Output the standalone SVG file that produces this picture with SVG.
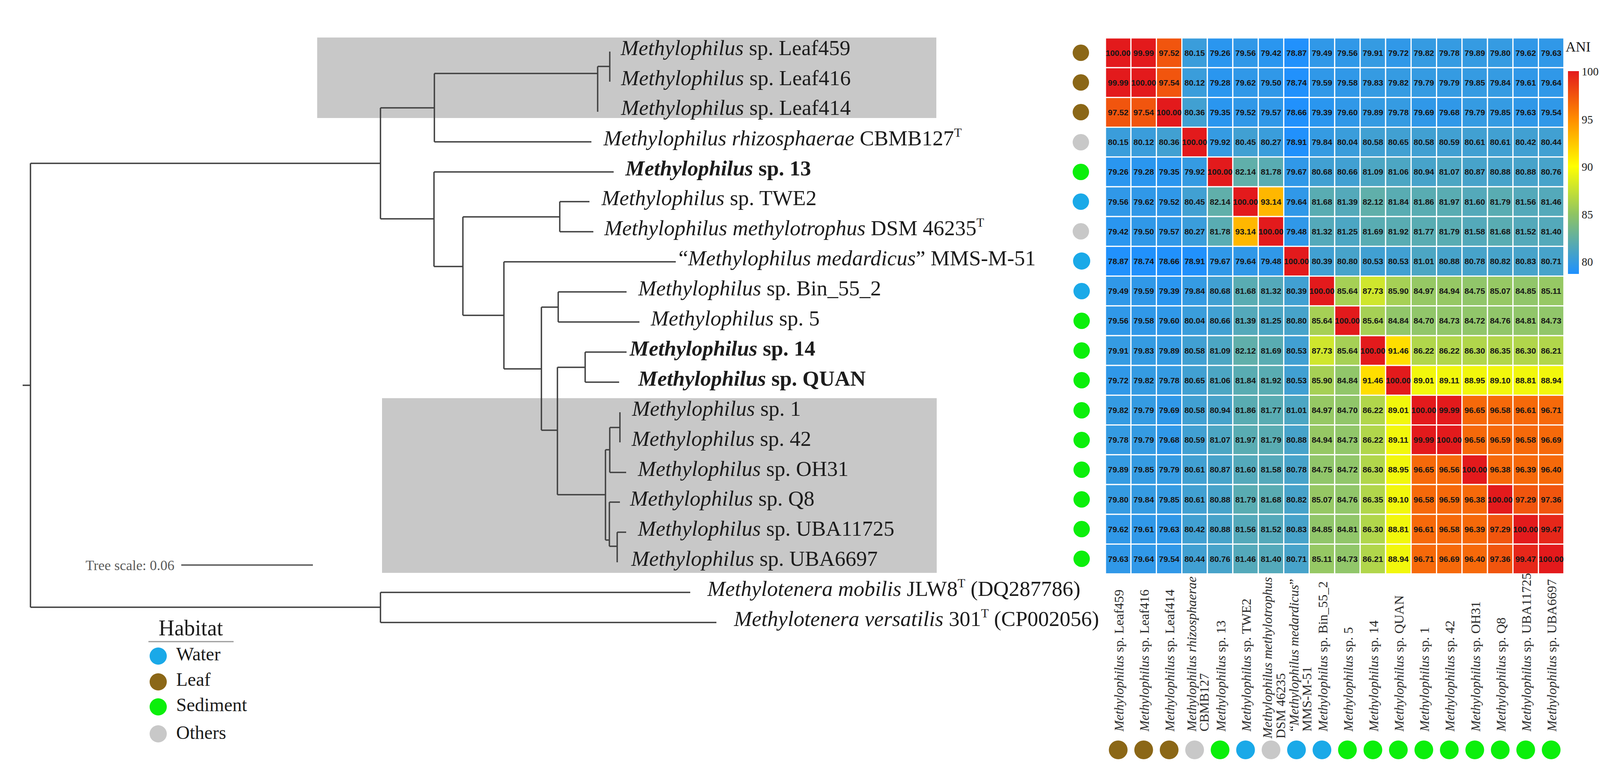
<svg xmlns="http://www.w3.org/2000/svg" width="4277" height="1991" viewBox="0 0 4277 1991">
<defs>
<linearGradient id="ani" x1="0" y1="0" x2="0" y2="1">
<stop offset="0" stop-color="#e31a1c"/>
<stop offset="0.235" stop-color="#ff8c00"/>
<stop offset="0.469" stop-color="#ffff00"/>
<stop offset="0.704" stop-color="#8fc462"/>
<stop offset="1" stop-color="#1e90ff"/>
</linearGradient>
</defs>
<style>
.tl{font-family:"Liberation Serif","Times New Roman",serif;font-size:55px;fill:#1c1c1c}
.b{font-weight:bold}
.i{font-style:italic}
.sup{font-size:32px}
.br{fill:none;stroke:#404040;stroke-width:3.5}
.hm rect{stroke:#fff;stroke-width:3}
.hm text{font-family:"Liberation Sans",Arial,sans-serif;font-weight:bold;font-size:21px;fill:#161616;text-anchor:middle}
.cl{font-family:"Liberation Serif","Times New Roman",serif;font-size:34px;fill:#2a2a2a}
.lg{font-family:"Liberation Serif","Times New Roman",serif;fill:#1c1c1c}
.leaf{fill:#8b6717}.water{fill:#1aa9e8}.sed{fill:#0bef0b}.oth{fill:#c8c8c8}
.k0{fill:#2191fc}.k1{fill:#2a96ef}.k2{fill:#3098e8}.k3{fill:#359be2}.k4{fill:#3a9ddb}.k5{fill:#41a0d2}.k6{fill:#47a3ca}.k7{fill:#4ca6c3}.k8{fill:#54a9ba}.k9{fill:#59acb2}.k10{fill:#60afaa}.k11{fill:#91c66a}.k12{fill:#96c864}.k13{fill:#a6d055}.k14{fill:#b1d64b}.k15{fill:#cfe62d}.k16{fill:#f2f70c}.k17{fill:#ffde00}.k18{fill:#ffb700}.k19{fill:#f6690a}.k20{fill:#f1550e}.k21{fill:#e6271a}.k22{fill:#e31a1c}
</style>
<rect width="4277" height="1991" fill="#fff"/>
<g id="clades">
<rect x="812" y="96" width="1585" height="206" fill="#c8c8c8"/>
<rect x="978" y="1019" width="1420" height="447" fill="#c8c8c8"/>
</g>
<g id="connectors" class="br">
<path d="M58,986H78M78,418V1554M78,418H974M974,276V560M974,276H1112M1112,188V363M1112,188H1530M1530,170V286M1530,170H1561M1561,132V209M1112,363H1514"/>
<path d="M974,560H1111M1111,440V682M1111,440H1571M1111,682H1185M1185,555V807M1185,555H1433M1433,516V593M1433,516H1509M1433,593H1519"/>
<path d="M1185,807H1290M1290,670V944M1290,670H1730M1290,944H1386M1386,786V1101M1386,786H1429M1429,747V824M1429,747H1604M1429,824H1637"/>
<path d="M1386,1101H1427M1427,940V1266M1427,940H1498M1498,901V978M1498,901H1604M1498,978H1585M1427,1266H1550M1550,1151V1382"/>
<path d="M1550,1151H1561M1561,1094V1209M1561,1209H1603M1561,1094H1587M1587,1055V1132M1550,1382H1560M1560,1285V1398M1560,1285H1587M1560,1398H1580M1580,1362V1439M1580,1362H1603"/>
<path d="M78,1554H974M974,1516V1593M974,1516H1767M974,1593H1834"/>
</g>
<g id="taxa">
<g id="t-leaf459"><text class="tl" x="1589" y="141"><tspan class="i">Methylophilus</tspan> sp. Leaf459</text></g>
<g id="t-leaf416"><text class="tl" x="1590" y="218"><tspan class="i">Methylophilus</tspan> sp. Leaf416</text></g>
<g id="t-leaf414"><text class="tl" x="1590" y="294"><tspan class="i">Methylophilus</tspan> sp. Leaf414</text></g>
<g id="t-rhizo"><text class="tl" x="1545" y="372"><tspan class="i">Methylophilus rhizosphaerae</tspan> CBMB127<tspan class="sup" dy="-22">T</tspan></text></g>
<g id="t-sp13"><text class="tl b" x="1601" y="449"><tspan class="i">Methylophilus</tspan> sp. 13</text></g>
<g id="t-twe2"><text class="tl" x="1540" y="525"><tspan class="i">Methylophilus</tspan> sp. TWE2</text></g>
<g id="t-methylotrophus"><text class="tl" x="1547" y="602"><tspan class="i">Methylophilus methylotrophus</tspan> DSM 46235<tspan class="sup" dy="-22">T</tspan></text></g>
<g id="t-medardicus"><text class="tl" x="1737" y="679">“<tspan class="i">Methylophilus medardicus</tspan>” MMS-M-51</text></g>
<g id="t-bin55"><text class="tl" x="1634" y="756"><tspan class="i">Methylophilus</tspan> sp. Bin_55_2</text></g>
<g id="t-sp5"><text class="tl" x="1666" y="833"><tspan class="i">Methylophilus</tspan> sp. 5</text></g>
<g id="t-sp14"><text class="tl b" x="1612" y="910"><tspan class="i">Methylophilus</tspan> sp. 14</text></g>
<g id="t-quan"><text class="tl b" x="1634" y="987"><tspan class="i">Methylophilus</tspan> sp. QUAN</text></g>
<g id="t-sp1"><text class="tl" x="1618" y="1064"><tspan class="i">Methylophilus</tspan> sp. 1</text></g>
<g id="t-sp42"><text class="tl" x="1617" y="1141"><tspan class="i">Methylophilus</tspan> sp. 42</text></g>
<g id="t-oh31"><text class="tl" x="1633" y="1218"><tspan class="i">Methylophilus</tspan> sp. OH31</text></g>
<g id="t-q8"><text class="tl" x="1613" y="1294"><tspan class="i">Methylophilus</tspan> sp. Q8</text></g>
<g id="t-uba11725"><text class="tl" x="1633" y="1371"><tspan class="i">Methylophilus</tspan> sp. UBA11725</text></g>
<g id="t-uba6697"><text class="tl" x="1616" y="1448"><tspan class="i">Methylophilus</tspan> sp. UBA6697</text></g>
<g id="t-mobilis"><text class="tl" x="1811" y="1525"><tspan class="i">Methylotenera mobilis</tspan> JLW8<tspan class="sup" dy="-22">T</tspan><tspan dy="22"> (DQ287786)</tspan></text></g>
<g id="t-versatilis"><text class="tl" x="1879" y="1602"><tspan class="i">Methylotenera versatilis</tspan> 301<tspan class="sup" dy="-22">T</tspan><tspan dy="22"> (CP002056)</tspan></text></g>
</g>
<g id="scale">
<text x="219" y="1459" font-family="Liberation Serif, Times New Roman, serif" font-size="36" fill="#5a5a5a">Tree scale: 0.06</text>
<line x1="464" y1="1446" x2="801" y2="1446" stroke="#555" stroke-width="3.5"/>
</g>
<g id="habitat-right">
<circle class="leaf" cx="2767" cy="135" r="21"/>
<circle class="leaf" cx="2767" cy="211" r="21"/>
<circle class="leaf" cx="2767" cy="287" r="21"/>
<circle class="oth" cx="2767" cy="364" r="21"/>
<circle class="sed" cx="2767" cy="440" r="21"/>
<circle class="water" cx="2767" cy="516" r="21"/>
<circle class="oth" cx="2767" cy="592" r="21"/>
<circle class="water" cx="2769" cy="668" r="22"/>
<circle class="water" cx="2769" cy="745" r="21"/>
<circle class="sed" cx="2769" cy="821" r="21"/>
<circle class="sed" cx="2769" cy="897" r="21"/>
<circle class="sed" cx="2769" cy="973" r="21"/>
<circle class="sed" cx="2769" cy="1050" r="21"/>
<circle class="sed" cx="2769" cy="1126" r="21"/>
<circle class="sed" cx="2769" cy="1202" r="21"/>
<circle class="sed" cx="2769" cy="1278" r="21"/>
<circle class="sed" cx="2769" cy="1354" r="21"/>
<circle class="sed" cx="2769" cy="1430" r="21"/>
</g>
<g id="heatmap" class="hm">
<g transform="translate(0,97)">
<rect x="2830" width="65.2" height="76.2" class="k22"/><rect x="2895.2" width="65.2" height="76.2" class="k22"/><rect x="2960.4" width="65.2" height="76.2" class="k20"/><rect x="3025.6" width="65.2" height="76.2" class="k4"/><rect x="3090.8" width="65.2" height="76.2" class="k1"/><rect x="3156" width="65.2" height="76.2" class="k2"/><rect x="3221.2" width="65.2" height="76.2" class="k1"/><rect x="3286.4" width="65.2" height="76.2" class="k0"/><rect x="3351.6" width="65.2" height="76.2" class="k2"/><rect x="3416.8" width="65.2" height="76.2" class="k2"/><rect x="3482" width="65.2" height="76.2" class="k3"/><rect x="3547.2" width="65.2" height="76.2" class="k2"/><rect x="3612.4" width="65.2" height="76.2" class="k3"/><rect x="3677.6" width="65.2" height="76.2" class="k3"/><rect x="3742.8" width="65.2" height="76.2" class="k3"/><rect x="3808" width="65.2" height="76.2" class="k3"/><rect x="3873.2" width="65.2" height="76.2" class="k2"/><rect x="3938.4" width="65.2" height="76.2" class="k2"/>
<text y="45.6"><tspan x="2862.6">100.00</tspan><tspan x="2927.8">99.99</tspan><tspan x="2993">97.52</tspan><tspan x="3058.2">80.15</tspan><tspan x="3123.4">79.26</tspan><tspan x="3188.6">79.56</tspan><tspan x="3253.8">79.42</tspan><tspan x="3319">78.87</tspan><tspan x="3384.2">79.49</tspan><tspan x="3449.4">79.56</tspan><tspan x="3514.6">79.91</tspan><tspan x="3579.8">79.72</tspan><tspan x="3645">79.82</tspan><tspan x="3710.2">79.78</tspan><tspan x="3775.4">79.89</tspan><tspan x="3840.6">79.80</tspan><tspan x="3905.8">79.62</tspan><tspan x="3971">79.63</tspan></text>
</g>
<g transform="translate(0,173.2)">
<rect x="2830" width="65.2" height="76.2" class="k22"/><rect x="2895.2" width="65.2" height="76.2" class="k22"/><rect x="2960.4" width="65.2" height="76.2" class="k20"/><rect x="3025.6" width="65.2" height="76.2" class="k4"/><rect x="3090.8" width="65.2" height="76.2" class="k1"/><rect x="3156" width="65.2" height="76.2" class="k2"/><rect x="3221.2" width="65.2" height="76.2" class="k2"/><rect x="3286.4" width="65.2" height="76.2" class="k0"/><rect x="3351.6" width="65.2" height="76.2" class="k2"/><rect x="3416.8" width="65.2" height="76.2" class="k2"/><rect x="3482" width="65.2" height="76.2" class="k3"/><rect x="3547.2" width="65.2" height="76.2" class="k3"/><rect x="3612.4" width="65.2" height="76.2" class="k3"/><rect x="3677.6" width="65.2" height="76.2" class="k3"/><rect x="3742.8" width="65.2" height="76.2" class="k3"/><rect x="3808" width="65.2" height="76.2" class="k3"/><rect x="3873.2" width="65.2" height="76.2" class="k2"/><rect x="3938.4" width="65.2" height="76.2" class="k2"/>
<text y="45.6"><tspan x="2862.6">99.99</tspan><tspan x="2927.8">100.00</tspan><tspan x="2993">97.54</tspan><tspan x="3058.2">80.12</tspan><tspan x="3123.4">79.28</tspan><tspan x="3188.6">79.62</tspan><tspan x="3253.8">79.50</tspan><tspan x="3319">78.74</tspan><tspan x="3384.2">79.59</tspan><tspan x="3449.4">79.58</tspan><tspan x="3514.6">79.83</tspan><tspan x="3579.8">79.82</tspan><tspan x="3645">79.79</tspan><tspan x="3710.2">79.79</tspan><tspan x="3775.4">79.85</tspan><tspan x="3840.6">79.84</tspan><tspan x="3905.8">79.61</tspan><tspan x="3971">79.64</tspan></text>
</g>
<g transform="translate(0,249.4)">
<rect x="2830" width="65.2" height="76.2" class="k20"/><rect x="2895.2" width="65.2" height="76.2" class="k20"/><rect x="2960.4" width="65.2" height="76.2" class="k22"/><rect x="3025.6" width="65.2" height="76.2" class="k5"/><rect x="3090.8" width="65.2" height="76.2" class="k1"/><rect x="3156" width="65.2" height="76.2" class="k2"/><rect x="3221.2" width="65.2" height="76.2" class="k2"/><rect x="3286.4" width="65.2" height="76.2" class="k0"/><rect x="3351.6" width="65.2" height="76.2" class="k1"/><rect x="3416.8" width="65.2" height="76.2" class="k2"/><rect x="3482" width="65.2" height="76.2" class="k3"/><rect x="3547.2" width="65.2" height="76.2" class="k3"/><rect x="3612.4" width="65.2" height="76.2" class="k2"/><rect x="3677.6" width="65.2" height="76.2" class="k2"/><rect x="3742.8" width="65.2" height="76.2" class="k3"/><rect x="3808" width="65.2" height="76.2" class="k3"/><rect x="3873.2" width="65.2" height="76.2" class="k2"/><rect x="3938.4" width="65.2" height="76.2" class="k2"/>
<text y="45.6"><tspan x="2862.6">97.52</tspan><tspan x="2927.8">97.54</tspan><tspan x="2993">100.00</tspan><tspan x="3058.2">80.36</tspan><tspan x="3123.4">79.35</tspan><tspan x="3188.6">79.52</tspan><tspan x="3253.8">79.57</tspan><tspan x="3319">78.66</tspan><tspan x="3384.2">79.39</tspan><tspan x="3449.4">79.60</tspan><tspan x="3514.6">79.89</tspan><tspan x="3579.8">79.78</tspan><tspan x="3645">79.69</tspan><tspan x="3710.2">79.68</tspan><tspan x="3775.4">79.79</tspan><tspan x="3840.6">79.85</tspan><tspan x="3905.8">79.63</tspan><tspan x="3971">79.54</tspan></text>
</g>
<g transform="translate(0,325.6)">
<rect x="2830" width="65.2" height="76.2" class="k4"/><rect x="2895.2" width="65.2" height="76.2" class="k4"/><rect x="2960.4" width="65.2" height="76.2" class="k5"/><rect x="3025.6" width="65.2" height="76.2" class="k22"/><rect x="3090.8" width="65.2" height="76.2" class="k3"/><rect x="3156" width="65.2" height="76.2" class="k5"/><rect x="3221.2" width="65.2" height="76.2" class="k4"/><rect x="3286.4" width="65.2" height="76.2" class="k0"/><rect x="3351.6" width="65.2" height="76.2" class="k3"/><rect x="3416.8" width="65.2" height="76.2" class="k4"/><rect x="3482" width="65.2" height="76.2" class="k5"/><rect x="3547.2" width="65.2" height="76.2" class="k5"/><rect x="3612.4" width="65.2" height="76.2" class="k5"/><rect x="3677.6" width="65.2" height="76.2" class="k5"/><rect x="3742.8" width="65.2" height="76.2" class="k5"/><rect x="3808" width="65.2" height="76.2" class="k5"/><rect x="3873.2" width="65.2" height="76.2" class="k5"/><rect x="3938.4" width="65.2" height="76.2" class="k5"/>
<text y="45.6"><tspan x="2862.6">80.15</tspan><tspan x="2927.8">80.12</tspan><tspan x="2993">80.36</tspan><tspan x="3058.2">100.00</tspan><tspan x="3123.4">79.92</tspan><tspan x="3188.6">80.45</tspan><tspan x="3253.8">80.27</tspan><tspan x="3319">78.91</tspan><tspan x="3384.2">79.84</tspan><tspan x="3449.4">80.04</tspan><tspan x="3514.6">80.58</tspan><tspan x="3579.8">80.65</tspan><tspan x="3645">80.58</tspan><tspan x="3710.2">80.59</tspan><tspan x="3775.4">80.61</tspan><tspan x="3840.6">80.61</tspan><tspan x="3905.8">80.42</tspan><tspan x="3971">80.44</tspan></text>
</g>
<g transform="translate(0,401.8)">
<rect x="2830" width="65.2" height="76.2" class="k1"/><rect x="2895.2" width="65.2" height="76.2" class="k1"/><rect x="2960.4" width="65.2" height="76.2" class="k1"/><rect x="3025.6" width="65.2" height="76.2" class="k3"/><rect x="3090.8" width="65.2" height="76.2" class="k22"/><rect x="3156" width="65.2" height="76.2" class="k10"/><rect x="3221.2" width="65.2" height="76.2" class="k9"/><rect x="3286.4" width="65.2" height="76.2" class="k2"/><rect x="3351.6" width="65.2" height="76.2" class="k5"/><rect x="3416.8" width="65.2" height="76.2" class="k5"/><rect x="3482" width="65.2" height="76.2" class="k7"/><rect x="3547.2" width="65.2" height="76.2" class="k7"/><rect x="3612.4" width="65.2" height="76.2" class="k6"/><rect x="3677.6" width="65.2" height="76.2" class="k7"/><rect x="3742.8" width="65.2" height="76.2" class="k6"/><rect x="3808" width="65.2" height="76.2" class="k6"/><rect x="3873.2" width="65.2" height="76.2" class="k6"/><rect x="3938.4" width="65.2" height="76.2" class="k6"/>
<text y="45.6"><tspan x="2862.6">79.26</tspan><tspan x="2927.8">79.28</tspan><tspan x="2993">79.35</tspan><tspan x="3058.2">79.92</tspan><tspan x="3123.4">100.00</tspan><tspan x="3188.6">82.14</tspan><tspan x="3253.8">81.78</tspan><tspan x="3319">79.67</tspan><tspan x="3384.2">80.68</tspan><tspan x="3449.4">80.66</tspan><tspan x="3514.6">81.09</tspan><tspan x="3579.8">81.06</tspan><tspan x="3645">80.94</tspan><tspan x="3710.2">81.07</tspan><tspan x="3775.4">80.87</tspan><tspan x="3840.6">80.88</tspan><tspan x="3905.8">80.88</tspan><tspan x="3971">80.76</tspan></text>
</g>
<g transform="translate(0,478)">
<rect x="2830" width="65.2" height="76.2" class="k2"/><rect x="2895.2" width="65.2" height="76.2" class="k2"/><rect x="2960.4" width="65.2" height="76.2" class="k2"/><rect x="3025.6" width="65.2" height="76.2" class="k5"/><rect x="3090.8" width="65.2" height="76.2" class="k10"/><rect x="3156" width="65.2" height="76.2" class="k22"/><rect x="3221.2" width="65.2" height="76.2" class="k18"/><rect x="3286.4" width="65.2" height="76.2" class="k2"/><rect x="3351.6" width="65.2" height="76.2" class="k9"/><rect x="3416.8" width="65.2" height="76.2" class="k8"/><rect x="3482" width="65.2" height="76.2" class="k10"/><rect x="3547.2" width="65.2" height="76.2" class="k9"/><rect x="3612.4" width="65.2" height="76.2" class="k9"/><rect x="3677.6" width="65.2" height="76.2" class="k9"/><rect x="3742.8" width="65.2" height="76.2" class="k8"/><rect x="3808" width="65.2" height="76.2" class="k9"/><rect x="3873.2" width="65.2" height="76.2" class="k8"/><rect x="3938.4" width="65.2" height="76.2" class="k8"/>
<text y="45.6"><tspan x="2862.6">79.56</tspan><tspan x="2927.8">79.62</tspan><tspan x="2993">79.52</tspan><tspan x="3058.2">80.45</tspan><tspan x="3123.4">82.14</tspan><tspan x="3188.6">100.00</tspan><tspan x="3253.8">93.14</tspan><tspan x="3319">79.64</tspan><tspan x="3384.2">81.68</tspan><tspan x="3449.4">81.39</tspan><tspan x="3514.6">82.12</tspan><tspan x="3579.8">81.84</tspan><tspan x="3645">81.86</tspan><tspan x="3710.2">81.97</tspan><tspan x="3775.4">81.60</tspan><tspan x="3840.6">81.79</tspan><tspan x="3905.8">81.56</tspan><tspan x="3971">81.46</tspan></text>
</g>
<g transform="translate(0,554.2)">
<rect x="2830" width="65.2" height="76.2" class="k1"/><rect x="2895.2" width="65.2" height="76.2" class="k2"/><rect x="2960.4" width="65.2" height="76.2" class="k2"/><rect x="3025.6" width="65.2" height="76.2" class="k4"/><rect x="3090.8" width="65.2" height="76.2" class="k9"/><rect x="3156" width="65.2" height="76.2" class="k18"/><rect x="3221.2" width="65.2" height="76.2" class="k22"/><rect x="3286.4" width="65.2" height="76.2" class="k2"/><rect x="3351.6" width="65.2" height="76.2" class="k8"/><rect x="3416.8" width="65.2" height="76.2" class="k7"/><rect x="3482" width="65.2" height="76.2" class="k9"/><rect x="3547.2" width="65.2" height="76.2" class="k9"/><rect x="3612.4" width="65.2" height="76.2" class="k9"/><rect x="3677.6" width="65.2" height="76.2" class="k9"/><rect x="3742.8" width="65.2" height="76.2" class="k8"/><rect x="3808" width="65.2" height="76.2" class="k9"/><rect x="3873.2" width="65.2" height="76.2" class="k8"/><rect x="3938.4" width="65.2" height="76.2" class="k8"/>
<text y="45.6"><tspan x="2862.6">79.42</tspan><tspan x="2927.8">79.50</tspan><tspan x="2993">79.57</tspan><tspan x="3058.2">80.27</tspan><tspan x="3123.4">81.78</tspan><tspan x="3188.6">93.14</tspan><tspan x="3253.8">100.00</tspan><tspan x="3319">79.48</tspan><tspan x="3384.2">81.32</tspan><tspan x="3449.4">81.25</tspan><tspan x="3514.6">81.69</tspan><tspan x="3579.8">81.92</tspan><tspan x="3645">81.77</tspan><tspan x="3710.2">81.79</tspan><tspan x="3775.4">81.58</tspan><tspan x="3840.6">81.68</tspan><tspan x="3905.8">81.52</tspan><tspan x="3971">81.40</tspan></text>
</g>
<g transform="translate(0,630.4)">
<rect x="2830" width="65.2" height="76.2" class="k0"/><rect x="2895.2" width="65.2" height="76.2" class="k0"/><rect x="2960.4" width="65.2" height="76.2" class="k0"/><rect x="3025.6" width="65.2" height="76.2" class="k0"/><rect x="3090.8" width="65.2" height="76.2" class="k2"/><rect x="3156" width="65.2" height="76.2" class="k2"/><rect x="3221.2" width="65.2" height="76.2" class="k2"/><rect x="3286.4" width="65.2" height="76.2" class="k22"/><rect x="3351.6" width="65.2" height="76.2" class="k5"/><rect x="3416.8" width="65.2" height="76.2" class="k6"/><rect x="3482" width="65.2" height="76.2" class="k5"/><rect x="3547.2" width="65.2" height="76.2" class="k5"/><rect x="3612.4" width="65.2" height="76.2" class="k7"/><rect x="3677.6" width="65.2" height="76.2" class="k6"/><rect x="3742.8" width="65.2" height="76.2" class="k6"/><rect x="3808" width="65.2" height="76.2" class="k6"/><rect x="3873.2" width="65.2" height="76.2" class="k6"/><rect x="3938.4" width="65.2" height="76.2" class="k6"/>
<text y="45.6"><tspan x="2862.6">78.87</tspan><tspan x="2927.8">78.74</tspan><tspan x="2993">78.66</tspan><tspan x="3058.2">78.91</tspan><tspan x="3123.4">79.67</tspan><tspan x="3188.6">79.64</tspan><tspan x="3253.8">79.48</tspan><tspan x="3319">100.00</tspan><tspan x="3384.2">80.39</tspan><tspan x="3449.4">80.80</tspan><tspan x="3514.6">80.53</tspan><tspan x="3579.8">80.53</tspan><tspan x="3645">81.01</tspan><tspan x="3710.2">80.88</tspan><tspan x="3775.4">80.78</tspan><tspan x="3840.6">80.82</tspan><tspan x="3905.8">80.83</tspan><tspan x="3971">80.71</tspan></text>
</g>
<g transform="translate(0,706.6)">
<rect x="2830" width="65.2" height="76.2" class="k2"/><rect x="2895.2" width="65.2" height="76.2" class="k2"/><rect x="2960.4" width="65.2" height="76.2" class="k1"/><rect x="3025.6" width="65.2" height="76.2" class="k3"/><rect x="3090.8" width="65.2" height="76.2" class="k5"/><rect x="3156" width="65.2" height="76.2" class="k9"/><rect x="3221.2" width="65.2" height="76.2" class="k8"/><rect x="3286.4" width="65.2" height="76.2" class="k5"/><rect x="3351.6" width="65.2" height="76.2" class="k22"/><rect x="3416.8" width="65.2" height="76.2" class="k13"/><rect x="3482" width="65.2" height="76.2" class="k15"/><rect x="3547.2" width="65.2" height="76.2" class="k13"/><rect x="3612.4" width="65.2" height="76.2" class="k12"/><rect x="3677.6" width="65.2" height="76.2" class="k12"/><rect x="3742.8" width="65.2" height="76.2" class="k11"/><rect x="3808" width="65.2" height="76.2" class="k12"/><rect x="3873.2" width="65.2" height="76.2" class="k11"/><rect x="3938.4" width="65.2" height="76.2" class="k12"/>
<text y="45.6"><tspan x="2862.6">79.49</tspan><tspan x="2927.8">79.59</tspan><tspan x="2993">79.39</tspan><tspan x="3058.2">79.84</tspan><tspan x="3123.4">80.68</tspan><tspan x="3188.6">81.68</tspan><tspan x="3253.8">81.32</tspan><tspan x="3319">80.39</tspan><tspan x="3384.2">100.00</tspan><tspan x="3449.4">85.64</tspan><tspan x="3514.6">87.73</tspan><tspan x="3579.8">85.90</tspan><tspan x="3645">84.97</tspan><tspan x="3710.2">84.94</tspan><tspan x="3775.4">84.75</tspan><tspan x="3840.6">85.07</tspan><tspan x="3905.8">84.85</tspan><tspan x="3971">85.11</tspan></text>
</g>
<g transform="translate(0,782.8)">
<rect x="2830" width="65.2" height="76.2" class="k2"/><rect x="2895.2" width="65.2" height="76.2" class="k2"/><rect x="2960.4" width="65.2" height="76.2" class="k2"/><rect x="3025.6" width="65.2" height="76.2" class="k4"/><rect x="3090.8" width="65.2" height="76.2" class="k5"/><rect x="3156" width="65.2" height="76.2" class="k8"/><rect x="3221.2" width="65.2" height="76.2" class="k7"/><rect x="3286.4" width="65.2" height="76.2" class="k6"/><rect x="3351.6" width="65.2" height="76.2" class="k13"/><rect x="3416.8" width="65.2" height="76.2" class="k22"/><rect x="3482" width="65.2" height="76.2" class="k13"/><rect x="3547.2" width="65.2" height="76.2" class="k11"/><rect x="3612.4" width="65.2" height="76.2" class="k11"/><rect x="3677.6" width="65.2" height="76.2" class="k11"/><rect x="3742.8" width="65.2" height="76.2" class="k11"/><rect x="3808" width="65.2" height="76.2" class="k11"/><rect x="3873.2" width="65.2" height="76.2" class="k11"/><rect x="3938.4" width="65.2" height="76.2" class="k11"/>
<text y="45.6"><tspan x="2862.6">79.56</tspan><tspan x="2927.8">79.58</tspan><tspan x="2993">79.60</tspan><tspan x="3058.2">80.04</tspan><tspan x="3123.4">80.66</tspan><tspan x="3188.6">81.39</tspan><tspan x="3253.8">81.25</tspan><tspan x="3319">80.80</tspan><tspan x="3384.2">85.64</tspan><tspan x="3449.4">100.00</tspan><tspan x="3514.6">85.64</tspan><tspan x="3579.8">84.84</tspan><tspan x="3645">84.70</tspan><tspan x="3710.2">84.73</tspan><tspan x="3775.4">84.72</tspan><tspan x="3840.6">84.76</tspan><tspan x="3905.8">84.81</tspan><tspan x="3971">84.73</tspan></text>
</g>
<g transform="translate(0,859)">
<rect x="2830" width="65.2" height="76.2" class="k3"/><rect x="2895.2" width="65.2" height="76.2" class="k3"/><rect x="2960.4" width="65.2" height="76.2" class="k3"/><rect x="3025.6" width="65.2" height="76.2" class="k5"/><rect x="3090.8" width="65.2" height="76.2" class="k7"/><rect x="3156" width="65.2" height="76.2" class="k10"/><rect x="3221.2" width="65.2" height="76.2" class="k9"/><rect x="3286.4" width="65.2" height="76.2" class="k5"/><rect x="3351.6" width="65.2" height="76.2" class="k15"/><rect x="3416.8" width="65.2" height="76.2" class="k13"/><rect x="3482" width="65.2" height="76.2" class="k22"/><rect x="3547.2" width="65.2" height="76.2" class="k17"/><rect x="3612.4" width="65.2" height="76.2" class="k14"/><rect x="3677.6" width="65.2" height="76.2" class="k14"/><rect x="3742.8" width="65.2" height="76.2" class="k14"/><rect x="3808" width="65.2" height="76.2" class="k14"/><rect x="3873.2" width="65.2" height="76.2" class="k14"/><rect x="3938.4" width="65.2" height="76.2" class="k14"/>
<text y="45.6"><tspan x="2862.6">79.91</tspan><tspan x="2927.8">79.83</tspan><tspan x="2993">79.89</tspan><tspan x="3058.2">80.58</tspan><tspan x="3123.4">81.09</tspan><tspan x="3188.6">82.12</tspan><tspan x="3253.8">81.69</tspan><tspan x="3319">80.53</tspan><tspan x="3384.2">87.73</tspan><tspan x="3449.4">85.64</tspan><tspan x="3514.6">100.00</tspan><tspan x="3579.8">91.46</tspan><tspan x="3645">86.22</tspan><tspan x="3710.2">86.22</tspan><tspan x="3775.4">86.30</tspan><tspan x="3840.6">86.35</tspan><tspan x="3905.8">86.30</tspan><tspan x="3971">86.21</tspan></text>
</g>
<g transform="translate(0,935.2)">
<rect x="2830" width="65.2" height="76.2" class="k2"/><rect x="2895.2" width="65.2" height="76.2" class="k3"/><rect x="2960.4" width="65.2" height="76.2" class="k3"/><rect x="3025.6" width="65.2" height="76.2" class="k5"/><rect x="3090.8" width="65.2" height="76.2" class="k7"/><rect x="3156" width="65.2" height="76.2" class="k9"/><rect x="3221.2" width="65.2" height="76.2" class="k9"/><rect x="3286.4" width="65.2" height="76.2" class="k5"/><rect x="3351.6" width="65.2" height="76.2" class="k13"/><rect x="3416.8" width="65.2" height="76.2" class="k11"/><rect x="3482" width="65.2" height="76.2" class="k17"/><rect x="3547.2" width="65.2" height="76.2" class="k22"/><rect x="3612.4" width="65.2" height="76.2" class="k16"/><rect x="3677.6" width="65.2" height="76.2" class="k16"/><rect x="3742.8" width="65.2" height="76.2" class="k16"/><rect x="3808" width="65.2" height="76.2" class="k16"/><rect x="3873.2" width="65.2" height="76.2" class="k16"/><rect x="3938.4" width="65.2" height="76.2" class="k16"/>
<text y="45.6"><tspan x="2862.6">79.72</tspan><tspan x="2927.8">79.82</tspan><tspan x="2993">79.78</tspan><tspan x="3058.2">80.65</tspan><tspan x="3123.4">81.06</tspan><tspan x="3188.6">81.84</tspan><tspan x="3253.8">81.92</tspan><tspan x="3319">80.53</tspan><tspan x="3384.2">85.90</tspan><tspan x="3449.4">84.84</tspan><tspan x="3514.6">91.46</tspan><tspan x="3579.8">100.00</tspan><tspan x="3645">89.01</tspan><tspan x="3710.2">89.11</tspan><tspan x="3775.4">88.95</tspan><tspan x="3840.6">89.10</tspan><tspan x="3905.8">88.81</tspan><tspan x="3971">88.94</tspan></text>
</g>
<g transform="translate(0,1011.4)">
<rect x="2830" width="65.2" height="76.2" class="k3"/><rect x="2895.2" width="65.2" height="76.2" class="k3"/><rect x="2960.4" width="65.2" height="76.2" class="k2"/><rect x="3025.6" width="65.2" height="76.2" class="k5"/><rect x="3090.8" width="65.2" height="76.2" class="k6"/><rect x="3156" width="65.2" height="76.2" class="k9"/><rect x="3221.2" width="65.2" height="76.2" class="k9"/><rect x="3286.4" width="65.2" height="76.2" class="k7"/><rect x="3351.6" width="65.2" height="76.2" class="k12"/><rect x="3416.8" width="65.2" height="76.2" class="k11"/><rect x="3482" width="65.2" height="76.2" class="k14"/><rect x="3547.2" width="65.2" height="76.2" class="k16"/><rect x="3612.4" width="65.2" height="76.2" class="k22"/><rect x="3677.6" width="65.2" height="76.2" class="k22"/><rect x="3742.8" width="65.2" height="76.2" class="k19"/><rect x="3808" width="65.2" height="76.2" class="k19"/><rect x="3873.2" width="65.2" height="76.2" class="k19"/><rect x="3938.4" width="65.2" height="76.2" class="k19"/>
<text y="45.6"><tspan x="2862.6">79.82</tspan><tspan x="2927.8">79.79</tspan><tspan x="2993">79.69</tspan><tspan x="3058.2">80.58</tspan><tspan x="3123.4">80.94</tspan><tspan x="3188.6">81.86</tspan><tspan x="3253.8">81.77</tspan><tspan x="3319">81.01</tspan><tspan x="3384.2">84.97</tspan><tspan x="3449.4">84.70</tspan><tspan x="3514.6">86.22</tspan><tspan x="3579.8">89.01</tspan><tspan x="3645">100.00</tspan><tspan x="3710.2">99.99</tspan><tspan x="3775.4">96.65</tspan><tspan x="3840.6">96.58</tspan><tspan x="3905.8">96.61</tspan><tspan x="3971">96.71</tspan></text>
</g>
<g transform="translate(0,1087.6)">
<rect x="2830" width="65.2" height="76.2" class="k3"/><rect x="2895.2" width="65.2" height="76.2" class="k3"/><rect x="2960.4" width="65.2" height="76.2" class="k2"/><rect x="3025.6" width="65.2" height="76.2" class="k5"/><rect x="3090.8" width="65.2" height="76.2" class="k7"/><rect x="3156" width="65.2" height="76.2" class="k9"/><rect x="3221.2" width="65.2" height="76.2" class="k9"/><rect x="3286.4" width="65.2" height="76.2" class="k6"/><rect x="3351.6" width="65.2" height="76.2" class="k12"/><rect x="3416.8" width="65.2" height="76.2" class="k11"/><rect x="3482" width="65.2" height="76.2" class="k14"/><rect x="3547.2" width="65.2" height="76.2" class="k16"/><rect x="3612.4" width="65.2" height="76.2" class="k22"/><rect x="3677.6" width="65.2" height="76.2" class="k22"/><rect x="3742.8" width="65.2" height="76.2" class="k19"/><rect x="3808" width="65.2" height="76.2" class="k19"/><rect x="3873.2" width="65.2" height="76.2" class="k19"/><rect x="3938.4" width="65.2" height="76.2" class="k19"/>
<text y="45.6"><tspan x="2862.6">79.78</tspan><tspan x="2927.8">79.79</tspan><tspan x="2993">79.68</tspan><tspan x="3058.2">80.59</tspan><tspan x="3123.4">81.07</tspan><tspan x="3188.6">81.97</tspan><tspan x="3253.8">81.79</tspan><tspan x="3319">80.88</tspan><tspan x="3384.2">84.94</tspan><tspan x="3449.4">84.73</tspan><tspan x="3514.6">86.22</tspan><tspan x="3579.8">89.11</tspan><tspan x="3645">99.99</tspan><tspan x="3710.2">100.00</tspan><tspan x="3775.4">96.56</tspan><tspan x="3840.6">96.59</tspan><tspan x="3905.8">96.58</tspan><tspan x="3971">96.69</tspan></text>
</g>
<g transform="translate(0,1163.8)">
<rect x="2830" width="65.2" height="76.2" class="k3"/><rect x="2895.2" width="65.2" height="76.2" class="k3"/><rect x="2960.4" width="65.2" height="76.2" class="k3"/><rect x="3025.6" width="65.2" height="76.2" class="k5"/><rect x="3090.8" width="65.2" height="76.2" class="k6"/><rect x="3156" width="65.2" height="76.2" class="k8"/><rect x="3221.2" width="65.2" height="76.2" class="k8"/><rect x="3286.4" width="65.2" height="76.2" class="k6"/><rect x="3351.6" width="65.2" height="76.2" class="k11"/><rect x="3416.8" width="65.2" height="76.2" class="k11"/><rect x="3482" width="65.2" height="76.2" class="k14"/><rect x="3547.2" width="65.2" height="76.2" class="k16"/><rect x="3612.4" width="65.2" height="76.2" class="k19"/><rect x="3677.6" width="65.2" height="76.2" class="k19"/><rect x="3742.8" width="65.2" height="76.2" class="k22"/><rect x="3808" width="65.2" height="76.2" class="k19"/><rect x="3873.2" width="65.2" height="76.2" class="k19"/><rect x="3938.4" width="65.2" height="76.2" class="k19"/>
<text y="45.6"><tspan x="2862.6">79.89</tspan><tspan x="2927.8">79.85</tspan><tspan x="2993">79.79</tspan><tspan x="3058.2">80.61</tspan><tspan x="3123.4">80.87</tspan><tspan x="3188.6">81.60</tspan><tspan x="3253.8">81.58</tspan><tspan x="3319">80.78</tspan><tspan x="3384.2">84.75</tspan><tspan x="3449.4">84.72</tspan><tspan x="3514.6">86.30</tspan><tspan x="3579.8">88.95</tspan><tspan x="3645">96.65</tspan><tspan x="3710.2">96.56</tspan><tspan x="3775.4">100.00</tspan><tspan x="3840.6">96.38</tspan><tspan x="3905.8">96.39</tspan><tspan x="3971">96.40</tspan></text>
</g>
<g transform="translate(0,1240)">
<rect x="2830" width="65.2" height="76.2" class="k3"/><rect x="2895.2" width="65.2" height="76.2" class="k3"/><rect x="2960.4" width="65.2" height="76.2" class="k3"/><rect x="3025.6" width="65.2" height="76.2" class="k5"/><rect x="3090.8" width="65.2" height="76.2" class="k6"/><rect x="3156" width="65.2" height="76.2" class="k9"/><rect x="3221.2" width="65.2" height="76.2" class="k9"/><rect x="3286.4" width="65.2" height="76.2" class="k6"/><rect x="3351.6" width="65.2" height="76.2" class="k12"/><rect x="3416.8" width="65.2" height="76.2" class="k11"/><rect x="3482" width="65.2" height="76.2" class="k14"/><rect x="3547.2" width="65.2" height="76.2" class="k16"/><rect x="3612.4" width="65.2" height="76.2" class="k19"/><rect x="3677.6" width="65.2" height="76.2" class="k19"/><rect x="3742.8" width="65.2" height="76.2" class="k19"/><rect x="3808" width="65.2" height="76.2" class="k22"/><rect x="3873.2" width="65.2" height="76.2" class="k20"/><rect x="3938.4" width="65.2" height="76.2" class="k20"/>
<text y="45.6"><tspan x="2862.6">79.80</tspan><tspan x="2927.8">79.84</tspan><tspan x="2993">79.85</tspan><tspan x="3058.2">80.61</tspan><tspan x="3123.4">80.88</tspan><tspan x="3188.6">81.79</tspan><tspan x="3253.8">81.68</tspan><tspan x="3319">80.82</tspan><tspan x="3384.2">85.07</tspan><tspan x="3449.4">84.76</tspan><tspan x="3514.6">86.35</tspan><tspan x="3579.8">89.10</tspan><tspan x="3645">96.58</tspan><tspan x="3710.2">96.59</tspan><tspan x="3775.4">96.38</tspan><tspan x="3840.6">100.00</tspan><tspan x="3905.8">97.29</tspan><tspan x="3971">97.36</tspan></text>
</g>
<g transform="translate(0,1316.2)">
<rect x="2830" width="65.2" height="76.2" class="k2"/><rect x="2895.2" width="65.2" height="76.2" class="k2"/><rect x="2960.4" width="65.2" height="76.2" class="k2"/><rect x="3025.6" width="65.2" height="76.2" class="k5"/><rect x="3090.8" width="65.2" height="76.2" class="k6"/><rect x="3156" width="65.2" height="76.2" class="k8"/><rect x="3221.2" width="65.2" height="76.2" class="k8"/><rect x="3286.4" width="65.2" height="76.2" class="k6"/><rect x="3351.6" width="65.2" height="76.2" class="k11"/><rect x="3416.8" width="65.2" height="76.2" class="k11"/><rect x="3482" width="65.2" height="76.2" class="k14"/><rect x="3547.2" width="65.2" height="76.2" class="k16"/><rect x="3612.4" width="65.2" height="76.2" class="k19"/><rect x="3677.6" width="65.2" height="76.2" class="k19"/><rect x="3742.8" width="65.2" height="76.2" class="k19"/><rect x="3808" width="65.2" height="76.2" class="k20"/><rect x="3873.2" width="65.2" height="76.2" class="k22"/><rect x="3938.4" width="65.2" height="76.2" class="k21"/>
<text y="45.6"><tspan x="2862.6">79.62</tspan><tspan x="2927.8">79.61</tspan><tspan x="2993">79.63</tspan><tspan x="3058.2">80.42</tspan><tspan x="3123.4">80.88</tspan><tspan x="3188.6">81.56</tspan><tspan x="3253.8">81.52</tspan><tspan x="3319">80.83</tspan><tspan x="3384.2">84.85</tspan><tspan x="3449.4">84.81</tspan><tspan x="3514.6">86.30</tspan><tspan x="3579.8">88.81</tspan><tspan x="3645">96.61</tspan><tspan x="3710.2">96.58</tspan><tspan x="3775.4">96.39</tspan><tspan x="3840.6">97.29</tspan><tspan x="3905.8">100.00</tspan><tspan x="3971">99.47</tspan></text>
</g>
<g transform="translate(0,1392.4)">
<rect x="2830" width="65.2" height="76.2" class="k2"/><rect x="2895.2" width="65.2" height="76.2" class="k2"/><rect x="2960.4" width="65.2" height="76.2" class="k2"/><rect x="3025.6" width="65.2" height="76.2" class="k5"/><rect x="3090.8" width="65.2" height="76.2" class="k6"/><rect x="3156" width="65.2" height="76.2" class="k8"/><rect x="3221.2" width="65.2" height="76.2" class="k8"/><rect x="3286.4" width="65.2" height="76.2" class="k6"/><rect x="3351.6" width="65.2" height="76.2" class="k12"/><rect x="3416.8" width="65.2" height="76.2" class="k11"/><rect x="3482" width="65.2" height="76.2" class="k14"/><rect x="3547.2" width="65.2" height="76.2" class="k16"/><rect x="3612.4" width="65.2" height="76.2" class="k19"/><rect x="3677.6" width="65.2" height="76.2" class="k19"/><rect x="3742.8" width="65.2" height="76.2" class="k19"/><rect x="3808" width="65.2" height="76.2" class="k20"/><rect x="3873.2" width="65.2" height="76.2" class="k21"/><rect x="3938.4" width="65.2" height="76.2" class="k22"/>
<text y="45.6"><tspan x="2862.6">79.63</tspan><tspan x="2927.8">79.64</tspan><tspan x="2993">79.54</tspan><tspan x="3058.2">80.44</tspan><tspan x="3123.4">80.76</tspan><tspan x="3188.6">81.46</tspan><tspan x="3253.8">81.40</tspan><tspan x="3319">80.71</tspan><tspan x="3384.2">85.11</tspan><tspan x="3449.4">84.73</tspan><tspan x="3514.6">86.21</tspan><tspan x="3579.8">88.94</tspan><tspan x="3645">96.71</tspan><tspan x="3710.2">96.69</tspan><tspan x="3775.4">96.40</tspan><tspan x="3840.6">97.36</tspan><tspan x="3905.8">99.47</tspan><tspan x="3971">100.00</tspan></text>
</g>
</g>
<g id="column-labels" class="cl">
<text x="2876" y="1872" transform="rotate(-90 2876 1872)"><tspan class="i">Methylophilus</tspan> sp. Leaf459</text>
<text x="2941" y="1872" transform="rotate(-90 2941 1872)"><tspan class="i">Methylophilus</tspan> sp. Leaf416</text>
<text x="3006" y="1872" transform="rotate(-90 3006 1872)"><tspan class="i">Methylophilus</tspan> sp. Leaf414</text>
<text x="3062" y="1872" transform="rotate(-90 3062 1872)"><tspan class="i">Methylophilus rhizosphaerae</tspan></text>
<text x="3094" y="1872" transform="rotate(-90 3094 1872)">CBMB127</text>
<text x="3137" y="1872" transform="rotate(-90 3137 1872)"><tspan class="i">Methylophilus</tspan> sp. 13</text>
<text x="3202" y="1872" transform="rotate(-90 3202 1872)"><tspan class="i">Methylophilus</tspan> sp. TWE2</text>
<text x="3256" y="1890" transform="rotate(-90 3256 1890)"><tspan class="i">Methylophilus methylotrophus</tspan></text>
<text x="3290" y="1890" transform="rotate(-90 3290 1890)">DSM 46235</text>
<text x="3324" y="1872" transform="rotate(-90 3324 1872)">“<tspan class="i">Methylophilus medardicus</tspan>”</text>
<text x="3357" y="1872" transform="rotate(-90 3357 1872)">MMS-M-51</text>
<text x="3398" y="1872" transform="rotate(-90 3398 1872)"><tspan class="i">Methylophilus</tspan> sp. Bin_55_2</text>
<text x="3463" y="1872" transform="rotate(-90 3463 1872)"><tspan class="i">Methylophilus</tspan> sp. 5</text>
<text x="3528" y="1872" transform="rotate(-90 3528 1872)"><tspan class="i">Methylophilus</tspan> sp. 14</text>
<text x="3593" y="1872" transform="rotate(-90 3593 1872)"><tspan class="i">Methylophilus</tspan> sp. QUAN</text>
<text x="3658" y="1872" transform="rotate(-90 3658 1872)"><tspan class="i">Methylophilus</tspan> sp. 1</text>
<text x="3723" y="1872" transform="rotate(-90 3723 1872)"><tspan class="i">Methylophilus</tspan> sp. 42</text>
<text x="3789" y="1872" transform="rotate(-90 3789 1872)"><tspan class="i">Methylophilus</tspan> sp. OH31</text>
<text x="3854" y="1872" transform="rotate(-90 3854 1872)"><tspan class="i">Methylophilus</tspan> sp. Q8</text>
<text x="3919" y="1872" transform="rotate(-90 3919 1872)"><tspan class="i">Methylophilus</tspan> sp. UBA11725</text>
<text x="3984" y="1872" transform="rotate(-90 3984 1872)"><tspan class="i">Methylophilus</tspan> sp. UBA6697</text>
</g>
<g id="habitat-bottom">
<circle class="leaf" cx="2862.6" cy="1919" r="24"/>
<circle class="leaf" cx="2927.8" cy="1919" r="24"/>
<circle class="leaf" cx="2993" cy="1919" r="24"/>
<circle class="oth" cx="3058.2" cy="1919" r="24"/>
<circle class="sed" cx="3123.4" cy="1919" r="24"/>
<circle class="water" cx="3188.6" cy="1919" r="24"/>
<circle class="oth" cx="3253.8" cy="1919" r="24"/>
<circle class="water" cx="3319" cy="1919" r="24"/>
<circle class="water" cx="3384.2" cy="1919" r="24"/>
<circle class="sed" cx="3449.4" cy="1919" r="24"/>
<circle class="sed" cx="3514.6" cy="1919" r="24"/>
<circle class="sed" cx="3579.8" cy="1919" r="24"/>
<circle class="sed" cx="3645" cy="1919" r="24"/>
<circle class="sed" cx="3710.2" cy="1919" r="24"/>
<circle class="sed" cx="3775.4" cy="1919" r="24"/>
<circle class="sed" cx="3840.6" cy="1919" r="24"/>
<circle class="sed" cx="3905.8" cy="1919" r="24"/>
<circle class="sed" cx="3971" cy="1919" r="24"/>
</g>
<g id="ani-legend">
<text class="lg" x="4008" y="132" font-size="36">ANI</text>
<rect x="4014" y="182" width="28" height="519" fill="url(#ani)"/>
<text class="lg" x="4049" y="193" font-size="29">100</text>
<text class="lg" x="4049" y="316" font-size="29">95</text>
<text class="lg" x="4049" y="437" font-size="29">90</text>
<text class="lg" x="4049" y="559" font-size="29">85</text>
<text class="lg" x="4049" y="680" font-size="29">80</text>
</g>
<g id="habitat-legend">
<text class="lg" x="406" y="1626" font-size="56">Habitat</text>
<line x1="380" y1="1642" x2="598" y2="1642" stroke="#999" stroke-width="3"/>
<circle class="water" cx="405" cy="1679" r="22"/>
<text class="lg" x="451" y="1690" font-size="48">Water</text>
<circle class="leaf" cx="405" cy="1745" r="22"/>
<text class="lg" x="451" y="1755" font-size="48">Leaf</text>
<circle class="sed" cx="405" cy="1809" r="22"/>
<text class="lg" x="451" y="1820" font-size="48">Sediment</text>
<circle class="oth" cx="405" cy="1878" r="22"/>
<text class="lg" x="451" y="1891" font-size="48">Others</text>
</g>
</svg>
